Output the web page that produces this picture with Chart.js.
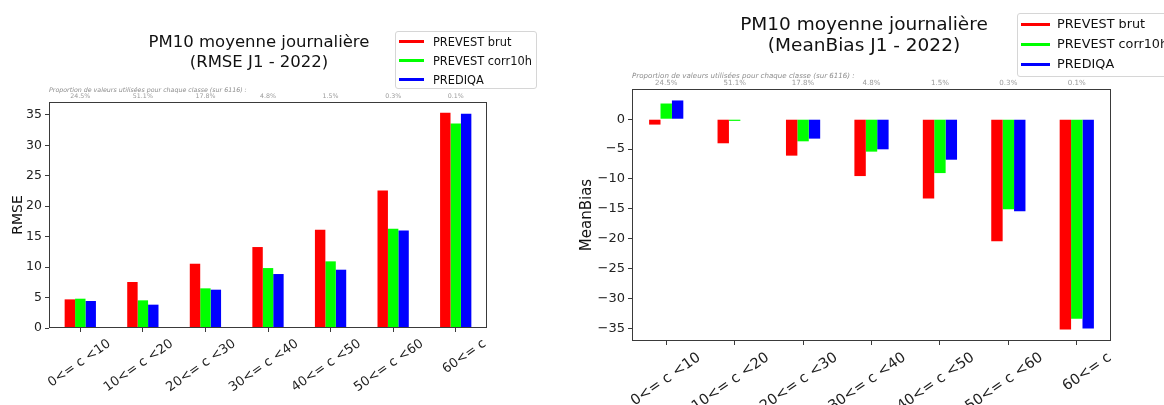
<!DOCTYPE html>
<html>
<head>
<meta charset="utf-8">
<script src="https://cdn.jsdelivr.net/npm/chart.js@4.4.1/dist/chart.umd.min.js"></script>
<style>
  body { margin: 0; width: 1164px; height: 405px; background: #fff; position: relative; overflow: hidden; font-family: "DejaVu Sans", sans-serif; color: #111; }
  canvas { position: absolute; top: 0; }
  .title { position: absolute; text-align: center; white-space: nowrap; }
  .legend { position: absolute; border: 1px solid #d6d6d6; border-radius: 3px; background: #fff; box-sizing: border-box; }
  .legend .row { position: absolute; left: 0; white-space: nowrap; }
  .legend .swatch { position: absolute; height: 3px; }
  .legend .label { position: absolute; }
</style>
</head>
<body>
<canvas id="rmseChart" width="560" height="405" style="left:0"></canvas>
<canvas id="biasChart" width="604" height="405" style="left:560px"></canvas>

<div class="title" id="rmseTitle" style="left:59px; top:32px; width:400px; font-size:16.5px; line-height:19.5px">PM10 moyenne journalière<br>(RMSE J1 - 2022)</div>
<div class="title" id="biasTitle" style="left:664px; top:13px; width:400px; font-size:18.5px; line-height:21px">PM10 moyenne journalière<br>(MeanBias J1 - 2022)</div>

<div class="legend" id="rmseLegend" style="left:395px; top:31px; width:142px; height:58px"></div>
<div class="legend" id="biasLegend" style="left:1017px; top:13px; width:170px; height:64px"></div>

<script>
// Data
const categories = ['0<= c <10', '10<= c <20', '20<= c <30', '30<= c <40', '40<= c <50', '50<= c <60', '60<= c'];
const proportions = ['24.5%', '51.1%', '17.8%', '4.8%', '1.5%', '0.3%', '0.1%'];
const seriesNames = ['PREVEST brut', 'PREVEST corr10h', 'PREDIQA'];
const seriesColors = ['#ff0000', '#00ff00', '#0000ff'];

const rmseBrut = [4.70, 7.55, 10.55, 13.29, 16.13, 22.59, 35.33];
const rmseCorr = [4.81, 4.54, 6.51, 9.84, 10.94, 16.30, 33.58];
const rmsePrediqa = [4.43, 3.83, 6.29, 8.86, 9.57, 16.02, 35.16];

const biasBrut = [-0.90, -4.03, -6.10, -9.52, -13.27, -20.44, -35.22];
const biasCorr = [2.63, -0.28, -3.70, -5.43, -9.02, -15.06, -33.43];
const biasPrediqa = [3.14, 0, -3.25, -5.04, -6.78, -15.40, -35.06];

const rmseTicks = [0, 5, 10, 15, 20, 25, 30, 35];
const biasTicks = [0, -5, -10, -15, -20, -25, -30, -35];

const noteText = 'Proportion de valeurs utilisées pour chaque classe (sur 6116) :';
const FONT = '"DejaVu Sans", sans-serif';

// Frame + proportion notes
const framePlugin = {
    id: 'frame',
    afterDraw(chart, args, opts) {
        const { ctx, chartArea: a, scales } = chart;
        ctx.save();
        ctx.strokeStyle = '#3a3a3a';
        ctx.lineWidth = 1;
        ctx.strokeRect(Math.round(a.left) + 0.5, Math.round(a.top) + 0.5,
            Math.round(a.right - a.left) - 1, Math.round(a.bottom - a.top) - 1);

        ctx.fillStyle = '#8c8c8c';
        ctx.textBaseline = 'middle';
        ctx.font = `italic ${opts.noteSize}px ${FONT}`;
        ctx.textAlign = 'left';
        ctx.fillText(noteText, a.left, opts.noteY);
        ctx.fillStyle = '#9a9a9a';
        ctx.font = `${opts.noteSize}px ${FONT}`;
        ctx.textAlign = 'center';
        proportions.forEach((p, i) => ctx.fillText(p, scales.x.getPixelForValue(i), opts.pctY));
        ctx.restore();
    }
};

function makeChart(id, series, cfg) {
    const ctx = document.getElementById(id).getContext('2d');
    return new Chart(ctx, {
        type: 'bar',
        data: {
            labels: categories,
            datasets: series.map((vals, i) => ({
                label: seriesNames[i],
                data: vals,
                backgroundColor: seriesColors[i],
                borderWidth: 0,
                categoryPercentage: 0.5,
                barPercentage: 1.0
            }))
        },
        options: {
            responsive: false,
            animation: false,
            devicePixelRatio: 1,
            layout: { padding: { left: 0, top: cfg.top, right: cfg.right, bottom: 0 } },
            scales: {
                x: {
                    grid: { display: true, offset: false, drawOnChartArea: false, drawTicks: true, tickLength: 4, color: '#3a3a3a' },
                    border: { display: false },
                    ticks: {
                        autoSkip: false, minRotation: 35, maxRotation: 35,
                        labelOffset: cfg.labelOffset, padding: cfg.xPad,
                        color: '#222', font: { family: FONT, size: cfg.xFont }
                    },
                    afterFit: (s) => { s.height = cfg.xHeight; }
                },
                y: {
                    min: cfg.yMin, max: cfg.yMax,
                    grid: { display: true, drawOnChartArea: false, drawTicks: true, tickLength: 4, color: '#3a3a3a' },
                    border: { display: false },
                    afterBuildTicks: (s) => { s.ticks = cfg.ticks.map(v => ({ value: v })); },
                    ticks: {
                        padding: 3, color: '#222', font: { family: FONT, size: cfg.yFont },
                        callback: (v) => v < 0 ? '\u2212' + Math.abs(v) : String(v)
                    },
                    title: {
                        display: true, text: cfg.yTitle, color: '#111',
                        font: { family: FONT, size: cfg.yTitleSize }, padding: { top: cfg.yTitlePad, bottom: 0 }
                    },
                    afterFit: (s) => { s.width = cfg.yWidth; }
                }
            },
            plugins: {
                legend: { display: false },
                title: { display: false },
                tooltip: { enabled: false },
                frame: { noteSize: cfg.noteSize, noteY: cfg.noteY, pctY: cfg.pctY }
            }
        },
        plugins: [framePlugin]
    });
}

function buildLegend(id, cfg) {
    const el = document.getElementById(id);
    seriesNames.forEach((name, i) => {
        const row = document.createElement('div');
        row.className = 'row';
        row.style.top = (cfg.firstRow + i * cfg.rowGap) + 'px';
        row.innerHTML = `<span class="swatch" style="left:${cfg.lineX}px; width:${cfg.lineW}px; top:-1.5px; background:${seriesColors[i]}"></span>` +
            `<span class="label" style="left:${cfg.textX}px; top:${-cfg.fontSize * 0.6}px; font-size:${cfg.fontSize}px">${name}</span>`;
        el.appendChild(row);
    });
}

makeChart('rmseChart', [rmseBrut, rmseCorr, rmsePrediqa], {
    top: 102, right: 73, xHeight: 77, yWidth: 49,
    yMin: 0, yMax: 37.1, ticks: rmseTicks,
    yTitle: 'RMSE', yTitleSize: 14, yTitlePad: 10,
    yFont: 12.5, xFont: 13, labelOffset: 29, xPad: 4,
    noteSize: 6.3, noteY: 90, pctY: 96.5
});

makeChart('biasChart', [biasBrut, biasCorr, biasPrediqa], {
    top: 89, right: 53, xHeight: 64, yWidth: 72,
    yMin: -37.14, yMax: 5.06, ticks: biasTicks,
    yTitle: 'MeanBias', yTitleSize: 15, yTitlePad: 18,
    yFont: 13, xFont: 14.5, labelOffset: 33, xPad: 4,
    noteSize: 7.1, noteY: 76.5, pctY: 83.3
});

buildLegend('rmseLegend', { firstRow: 9.5, rowGap: 19.2, lineX: 3, lineW: 25, textX: 37, fontSize: 11.4 });
buildLegend('biasLegend', { firstRow: 10, rowGap: 20, lineX: 3, lineW: 29, textX: 39, fontSize: 12.8 });
</script>
</body>
</html>
